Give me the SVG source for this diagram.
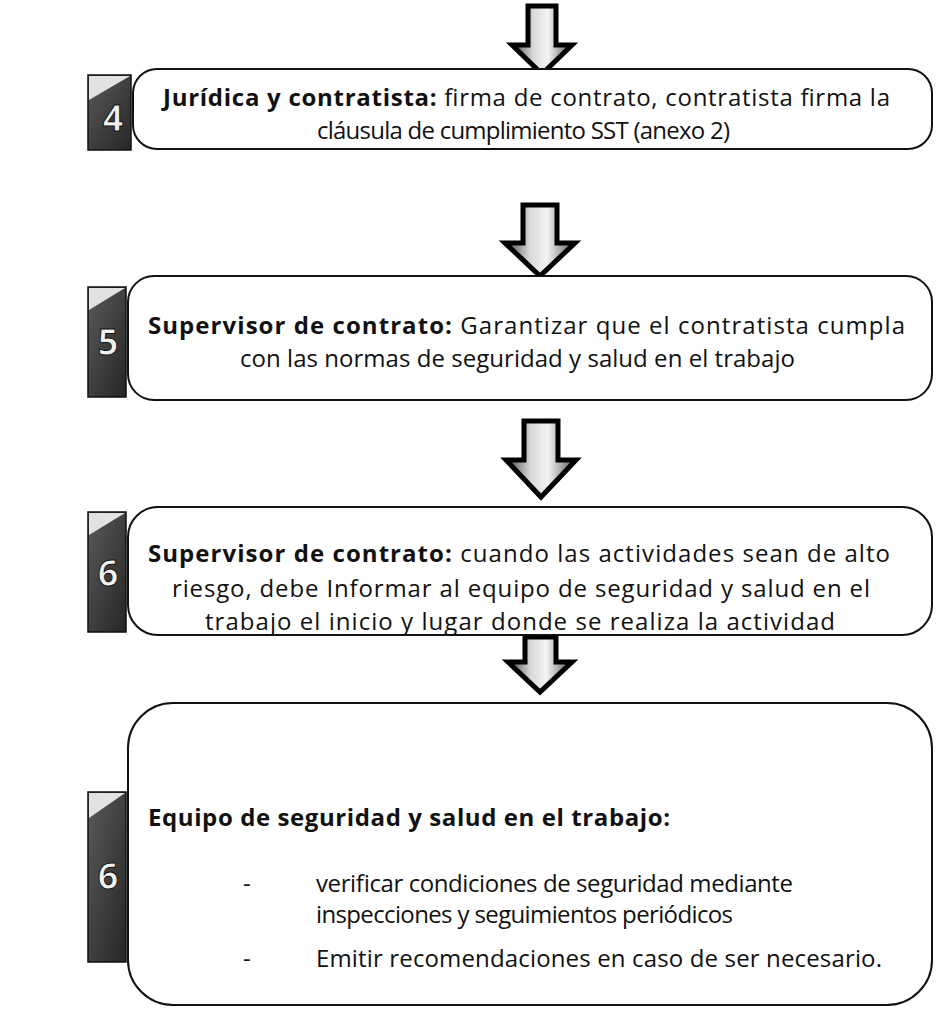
<svg xmlns="http://www.w3.org/2000/svg" width="943" height="1024" viewBox="0 0 943 1024">
<style>
  .box { fill: #ffffff; stroke: #111; stroke-width: 2; }
  .num { fill: url(#numGrad); stroke: #111; stroke-width: 1.5; }
  .cut { fill: #e2e2e2; stroke: none; }
  .numtxt { font-family: "Open Sans", "Liberation Sans", sans-serif; font-weight: bold; font-size: 36px; fill: #f0f0f0; stroke: #111; stroke-width: 1; text-anchor: middle; }
  .t { font-family: "Open Sans", "Liberation Sans", sans-serif; font-size: 24px; fill: #111; }
  .b { font-weight: bold; }
  .arrow { fill: url(#arrowGrad); stroke: #000; stroke-width: 5; stroke-linejoin: miter; }
</style>
<defs>
  <linearGradient id="numGrad" x1="0" y1="0" x2="1" y2="1">
    <stop offset="0" stop-color="#5a5a5a"/>
    <stop offset="0.5" stop-color="#404040"/>
    <stop offset="1" stop-color="#262626"/>
  </linearGradient>
  <linearGradient id="arrowGrad" x1="0" y1="0" x2="1" y2="0">
    <stop offset="0" stop-color="#444"/>
    <stop offset="0.35" stop-color="#d8d8d8"/>
    <stop offset="0.6" stop-color="#f4f4f4"/>
    <stop offset="1" stop-color="#555"/>
  </linearGradient>
</defs>

<g id="connectors">
  <polygon class="arrow" points="528,6 556,6 556,45 572,45 542,74 512,45 528,45"/>
  <polygon class="arrow" points="523,205 557,205 557,243 575,243 540,276 505,243 523,243"/>
  <polygon class="arrow" points="524,421 558,421 558,460 576,460 541,497 506,460 524,460"/>
  <polygon class="arrow" points="525,637 556,637 556,662 572,662 540,692 508,662 525,662"/>
</g>

<g id="node-4">
  <rect class="box" x="133" y="69" width="799" height="80" rx="24" ry="24"/>
  <rect class="num" x="88" y="75" width="43" height="75"/>
  <polygon class="cut" points="89,76 130,76 89,100"/>
  <text class="numtxt" x="113" y="131">4</text>
  <text class="t" x="163" y="106" textLength="727" lengthAdjust="spacing"><tspan class="b">Jurídica y contratista:</tspan> firma de contrato, contratista firma la</text>
  <text class="t" x="317" y="139" textLength="413" lengthAdjust="spacing">cláusula de cumplimiento SST (anexo 2)</text>
</g>

<g id="node-5">
  <rect class="box" x="128" y="276" width="804" height="124" rx="26" ry="26"/>
  <rect class="num" x="88" y="287" width="38" height="110"/>
  <polygon class="cut" points="89,288 125,288 89,310"/>
  <text class="numtxt" x="108" y="355">5</text>
  <text class="t" x="148" y="334" textLength="757" lengthAdjust="spacing"><tspan class="b">Supervisor de contrato:</tspan>  Garantizar que el contratista cumpla</text>
  <text class="t" x="240" y="367" textLength="555" lengthAdjust="spacing">con las normas de seguridad y salud en el trabajo</text>
</g>

<g id="node-6a">
  <rect class="box" x="128" y="507" width="804" height="128" rx="30" ry="30"/>
  <rect class="num" x="88" y="512" width="38" height="120"/>
  <polygon class="cut" points="89,513 125,513 89,535"/>
  <text class="numtxt" x="108" y="586">6</text>
  <text class="t" x="148" y="562" textLength="742" lengthAdjust="spacing"><tspan class="b">Supervisor de contrato:</tspan> cuando las actividades sean de alto</text>
  <text class="t" x="172" y="597" textLength="698" lengthAdjust="spacing">riesgo, debe Informar al equipo de seguridad y salud en el</text>
  <text class="t" x="205" y="630" textLength="630" lengthAdjust="spacing">trabajo el inicio y lugar donde se realiza la actividad</text>
</g>

<g id="node-6b">
  <rect class="box" x="128" y="703" width="804" height="302" rx="45" ry="45"/>
  <rect class="num" x="88" y="792" width="38" height="170"/>
  <polygon class="cut" points="89,793 125,793 89,818"/>
  <text class="numtxt" x="108" y="889">6</text>
  <text class="t b" x="148" y="826" textLength="522" lengthAdjust="spacing">Equipo de seguridad y salud en el trabajo:</text>
  <text class="t" x="243" y="892">-</text>
  <text class="t" x="316" y="892" textLength="477" lengthAdjust="spacing">verificar condiciones de seguridad mediante</text>
  <text class="t" x="316" y="923" textLength="417" lengthAdjust="spacing">inspecciones y seguimientos periódicos</text>
  <text class="t" x="243" y="967">-</text>
  <text class="t" x="316" y="967" textLength="566" lengthAdjust="spacing">Emitir recomendaciones en caso de ser necesario.</text>
</g>
</svg>
